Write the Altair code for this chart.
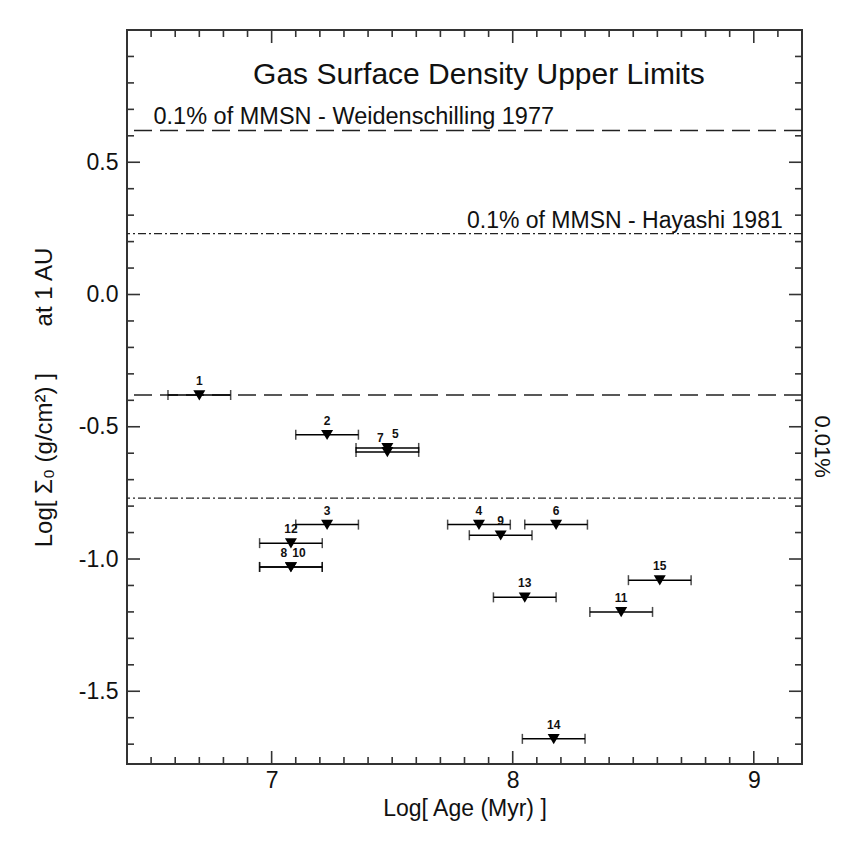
import altair as alt
import pandas as pd

# ---- data ----
ids = ["1", "2", "3", "4", "5", "6", "7", "8", "9", "10", "11", "12", "13", "14", "15"]
log_age = [6.70, 7.23, 7.23, 7.86, 7.48, 8.18, 7.48, 7.08, 7.95, 7.08, 8.45, 7.08, 8.05, 8.17, 8.61]
log_sigma = [-0.38, -0.53, -0.87, -0.87, -0.58, -0.87, -0.595, -1.03, -0.91, -1.03, -1.20, -0.94, -1.145, -1.68, -1.08]
age_err = [0.13, 0.13, 0.13, 0.13, 0.13, 0.13, 0.13, 0.13, 0.13, 0.13, 0.13, 0.13, 0.13, 0.13, 0.13]

dashed_levels = [0.62, -0.38]
dashdot_levels = [0.23, -0.77]

x_major = [7, 8, 9]
x_minor = [6.5, 6.6, 6.7, 6.8, 6.9, 7.1, 7.2, 7.3, 7.4, 7.5, 7.6, 7.7, 7.8, 7.9,
           8.1, 8.2, 8.3, 8.4, 8.5, 8.6, 8.7, 8.8, 8.9, 9.1]
y_major = [-1.5, -1.0, -0.5, 0.0, 0.5]
y_minor = [-1.7, -1.6, -1.4, -1.3, -1.2, -1.1, -0.9, -0.8, -0.7, -0.6, -0.4, -0.3,
           -0.2, -0.1, 0.1, 0.2, 0.3, 0.4, 0.6, 0.7, 0.8, 0.9]

left_shift_labels = ["7", "8"]
right_shift_labels = ["5", "10"]

W, H = 675, 734
FONT = "Liberation Sans, Arial, Helvetica, sans-serif"
INK = "#222222"
TXT = "#111111"

df = pd.DataFrame({"id": ids, "age": log_age, "sigma": log_sigma, "err": age_err})

xs = alt.Scale(domain=[6.4, 9.2], nice=False, zero=False)
ys = alt.Scale(domain=[-1.775, 1.0], nice=False, zero=False)

AX = dict(ticks=False, domain=False, grid=False, labelFont=FONT, titleFont=FONT,
          labelFontSize=23, labelColor=TXT, titleColor=TXT, titleFontWeight="normal")
x_axis = alt.Axis(values=x_major, format="d", labelPadding=5, titlePadding=5, titleFontSize=23,
                  title="Log[ Age (Myr) ]", **AX)
y_axis = alt.Axis(values=y_major, labelExpr="replace(format(datum.value, '.1f'), '\u2212', '-')",
                  labelPadding=9, titlePadding=22, titleFontSize=24,
                  title="Log[ \u03a3\u2080  (g/cm\u00b2) ]" + "\u00a0" * 7 + "at 1 AU", **AX)


def X(field):
    return alt.X(field, type="quantitative", scale=xs, axis=x_axis)


def Y(field):
    return alt.Y(field, type="quantitative", scale=ys, axis=y_axis)


base = alt.Chart(df).transform_calculate(lo="datum.age - datum.err", hi="datum.age + datum.err")

err_rule = base.mark_rule(color="black", strokeWidth=1.5).encode(x=X("lo"), x2="hi:Q", y=Y("sigma"))
cap_lo = base.mark_tick(orient="vertical", size=10, thickness=1.5, color="black").encode(x=X("lo"), y=Y("sigma"))
cap_hi = base.mark_tick(orient="vertical", size=10, thickness=1.5, color="black").encode(x=X("hi"), y=Y("sigma"))

tri = "M-1,-0.8L1,-0.8L0,0.9Z"
markers = base.mark_point(shape=tri, filled=True, size=144, color="black", opacity=1).encode(
    x=X("age"), y=Y("sigma"))

label_style = dict(fontSize=12, fontWeight="bold", font=FONT, color=TXT, baseline="middle")
lab_c = base.transform_filter(
    ~alt.FieldOneOfPredicate(field="id", oneOf=left_shift_labels + right_shift_labels)
).mark_text(dy=-14, **label_style).encode(x=X("age"), y=Y("sigma"), text="id:N")
lab_l = base.transform_filter(alt.FieldOneOfPredicate(field="id", oneOf=left_shift_labels)).mark_text(
    dy=-14, dx=-7, **label_style).encode(x=X("age"), y=Y("sigma"), text="id:N")
lab_r = base.transform_filter(alt.FieldOneOfPredicate(field="id", oneOf=right_shift_labels)).mark_text(
    dy=-14, dx=8, **label_style).encode(x=X("age"), y=Y("sigma"), text="id:N")

dashed = alt.Chart(pd.DataFrame({"v": dashed_levels})).mark_rule(
    strokeDash=[18, 8], strokeWidth=1.3, color=INK).encode(y=Y("v"))
dashdot = alt.Chart(pd.DataFrame({"v": dashdot_levels})).mark_rule(
    strokeDash=[8, 3, 2, 3], strokeWidth=1.3, color=INK).encode(y=Y("v"))

# inward ticks on all four sides
xmaj = pd.DataFrame({"v": x_major})
xmin = pd.DataFrame({"v": x_minor})
ymaj = pd.DataFrame({"v": y_major})
ymin = pd.DataFrame({"v": y_minor})
TK = dict(color="#333333", strokeWidth=1.6)
ticks = [
    alt.Chart(xmaj).mark_rule(**TK).encode(x=X("v"), y=alt.value(H), y2=alt.value(H - 13)),
    alt.Chart(xmaj).mark_rule(**TK).encode(x=X("v"), y=alt.value(0), y2=alt.value(13)),
    alt.Chart(xmin).mark_rule(**TK).encode(x=X("v"), y=alt.value(H), y2=alt.value(H - 7)),
    alt.Chart(xmin).mark_rule(**TK).encode(x=X("v"), y=alt.value(0), y2=alt.value(7)),
    alt.Chart(ymaj).mark_rule(**TK).encode(y=Y("v"), x=alt.value(0), x2=alt.value(13)),
    alt.Chart(ymaj).mark_rule(**TK).encode(y=Y("v"), x=alt.value(W), x2=alt.value(W - 13)),
    alt.Chart(ymin).mark_rule(**TK).encode(y=Y("v"), x=alt.value(0), x2=alt.value(7)),
    alt.Chart(ymin).mark_rule(**TK).encode(y=Y("v"), x=alt.value(W), x2=alt.value(W - 7)),
]

# annotations
notes = pd.DataFrame({
    "x": [7.86, 6.51, 9.12],
    "y": [0.83, 0.62, 0.23],
    "t": ["Gas Surface Density Upper Limits",
          "0.1% of MMSN - Weidenschilling 1977",
          "0.1% of MMSN - Hayashi 1981"],
})
title_txt = alt.Chart(notes.iloc[[0]]).mark_text(
    font=FONT, fontSize=30, color=TXT, baseline="middle", align="center").encode(
    x=X("x"), y=Y("y"), text="t:N")
weid_txt = alt.Chart(notes.iloc[[1]]).mark_text(
    font=FONT, fontSize=23.5, color=TXT, baseline="alphabetic", align="left", dy=-7).encode(
    x=X("x"), y=Y("y"), text="t:N")
haya_txt = alt.Chart(notes.iloc[[2]]).mark_text(
    font=FONT, fontSize=23, color=TXT, baseline="alphabetic", align="right", dy=-6).encode(
    x=X("x"), y=Y("y"), text="t:N")
pct_txt = alt.Chart(pd.DataFrame({"y": [-0.575], "t": ["0.01%"]})).mark_text(
    font=FONT, fontSize=22, color=TXT, angle=90, baseline="middle", align="center").encode(
    x=alt.value(W + 20), y=Y("y"), text="t:N")

chart = alt.layer(
    dashed, dashdot, err_rule, cap_lo, cap_hi, markers, lab_c, lab_l, lab_r,
    *ticks, title_txt, weid_txt, haya_txt, pct_txt
).properties(
    width=W, height=H,
    background="white",
    autosize=alt.AutoSizeParams(type="none"),
    padding={"left": 127, "top": 30, "right": 62, "bottom": 87},
).configure_view(
    stroke="#333333", strokeWidth=2
)

chart.save("out.html", embed_options={"renderer": "svg", "actions": False})
